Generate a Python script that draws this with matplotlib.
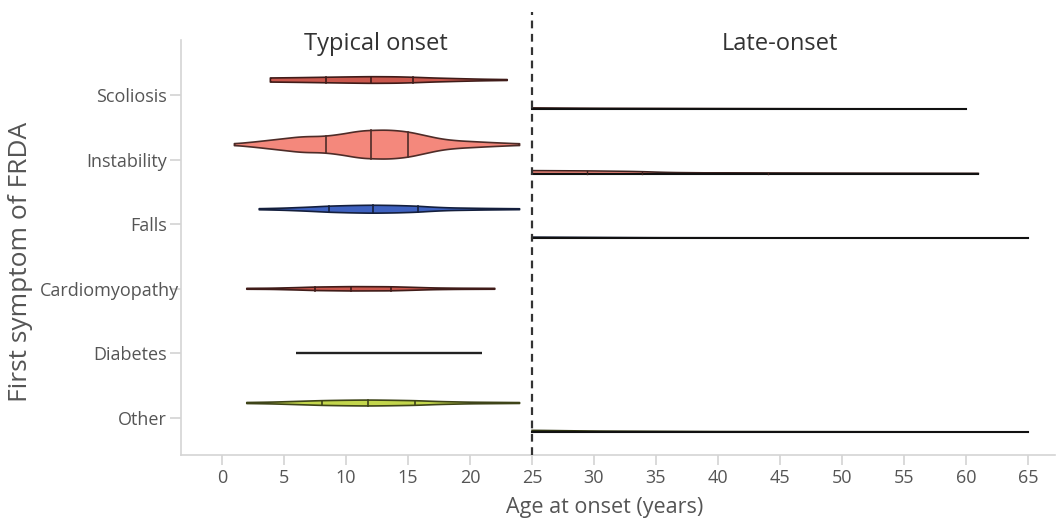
import numpy as np
import matplotlib
matplotlib.use("Agg")
import matplotlib.pyplot as plt
from matplotlib.colors import to_rgb
from matplotlib.transforms import ScaledTranslation

plt.rcParams['font.family'] = ['Open Sans', 'DejaVu Sans']

categories = ['Scoliosis', 'Instability', 'Falls', 'Cardiomyopathy', 'Diabetes', 'Other']
x_ticks = [0, 5, 10, 15, 20, 25, 30, 35, 40, 45, 50, 55, 60, 65]
cutoff_age = 25

# ---- typical onset (relative density profiles) ----
scoliosis_typ_age = [3.9, 6, 8.4, 10, 12, 14, 15.4, 17, 19.2, 21, 23]
scoliosis_typ_dens = [0.14, 0.16, 0.19, 0.21, 0.23, 0.22, 0.19, 0.14, 0.09, 0.055, 0.03]
scoliosis_typ_quart = [8.4, 12.0, 15.4]

instability_typ_age = [1, 2.5, 4.3, 6.4, 8.3, 9.7, 11, 12, 13.5, 15, 16.4, 17.7, 19, 21.7, 24]
instability_typ_dens = [0.055, 0.17, 0.34, 0.54, 0.57, 0.72, 0.92, 0.98, 1.0, 0.88, 0.62, 0.38, 0.26, 0.14, 0.055]
instability_typ_quart = [8.4, 12.0, 15.0]

falls_typ_age = [3, 4.9, 7, 8.6, 10.5, 12.2, 14, 15.7, 17, 18.4, 21, 24]
falls_typ_dens = [0.035, 0.07, 0.14, 0.21, 0.255, 0.275, 0.255, 0.21, 0.14, 0.09, 0.055, 0.03]
falls_typ_quart = [8.6, 12.2, 15.8]

cardio_typ_age = [2, 4, 6, 7.5, 10.4, 13.6, 15, 17, 19, 22]
cardio_typ_dens = [0.03, 0.04, 0.08, 0.12, 0.15, 0.14, 0.11, 0.06, 0.04, 0.03]
cardio_typ_quart = [7.5, 10.4, 13.6]

diabetes_typ_age = [6, 21]
diabetes_typ_dens = [0.0, 0.0]
diabetes_typ_quart = []

other_typ_age = [2, 4, 6, 8.1, 10, 11.8, 13.5, 15.6, 17.5, 20, 24]
other_typ_dens = [0.035, 0.06, 0.11, 0.165, 0.19, 0.205, 0.19, 0.16, 0.1, 0.055, 0.03]
other_typ_quart = [8.1, 11.8, 15.6]

# ---- late onset (one-sided) ----
scoliosis_late_age = [25, 30, 40, 50, 60]
scoliosis_late_dens = [0.08, 0.055, 0.035, 0.02, 0.015]

instability_late_age = [25, 29.4, 33.5, 36, 40, 50, 61]
instability_late_dens = [0.21, 0.19, 0.15, 0.08, 0.05, 0.03, 0.015]
instability_late_quart = [29.4, 33.9, 44.0]

falls_late_age = [25, 35, 45, 55, 65]
falls_late_dens = [0.08, 0.04, 0.03, 0.02, 0.015]

other_late_age = [25, 30, 40, 55, 65]
other_late_dens = [0.12, 0.07, 0.035, 0.02, 0.015]

colors = {
    'Scoliosis': '#c9574d',
    'Instability': '#f4887c',
    'Falls': '#3f62c0',
    'Cardiomyopathy': '#c9574d',
    'Diabetes': '#c9574d',
    'Other': '#c3d64c',
}

typical = [
    ('Scoliosis', scoliosis_typ_age, scoliosis_typ_dens, scoliosis_typ_quart),
    ('Instability', instability_typ_age, instability_typ_dens, instability_typ_quart),
    ('Falls', falls_typ_age, falls_typ_dens, falls_typ_quart),
    ('Cardiomyopathy', cardio_typ_age, cardio_typ_dens, cardio_typ_quart),
    ('Diabetes', diabetes_typ_age, diabetes_typ_dens, diabetes_typ_quart),
    ('Other', other_typ_age, other_typ_dens, other_typ_quart),
]
late = [
    ('Scoliosis', scoliosis_late_age, scoliosis_late_dens, []),
    ('Instability', instability_late_age, instability_late_dens, instability_late_quart),
    ('Falls', falls_late_age, falls_late_dens, []),
    ('Other', other_late_age, other_late_dens, []),
]
late_names = [l[0] for l in late]

# ---- figure ----
W, H = 1058, 518
fig = plt.figure(figsize=(W / 100, H / 100), dpi=100)
AX_L, AX_R, AX_T, AX_B = 181, 1055, 40, 455
ax = fig.add_axes([AX_L / W, (H - AX_B) / H, (AX_R - AX_L) / W, (AX_B - AX_T) / H])

SCALE = 0.225      # half-width (category units) for relative density 1
OFF_TYP = -0.232
OFF_LATE = 0.217


def smooth_profile(ages, dens, n=400):
    xs = np.linspace(ages[0], ages[-1], n)
    ws = np.interp(xs, ages, dens)
    k = 25
    pad = np.concatenate([np.full(k, ws[0]), ws, np.full(k, ws[-1])])
    ker = np.ones(k) / k
    sm = np.convolve(pad, ker, mode='same')[k:-k]
    return xs, sm


def edge_of(c, f=0.32):
    r, g, b = to_rgb(c)
    return (r * f, g * f, b * f)


for name, ages, dens, quart in typical:
    i = categories.index(name)
    c = i + (OFF_TYP if name in late_names else 0.0)
    xs, ws = smooth_profile(ages, dens)
    w = ws * SCALE
    fc = colors[name]
    ec = edge_of(fc)
    if max(dens) == 0:
        ax.plot([ages[0], ages[-1]], [c, c], color='#222222', lw=1.7, solid_capstyle='butt')
        continue
    px = np.concatenate([xs, xs[::-1]])
    py = np.concatenate([c - w, (c + w)[::-1]])
    ax.fill(px, py, facecolor=fc, edgecolor=ec, lw=1.2, joinstyle='round', zorder=3)
    for q in quart:
        wq = np.interp(q, xs, w)
        ax.plot([q, q], [c - wq, c + wq], color=ec, lw=1.2, zorder=4)

for name, ages, dens, quart in late:
    i = categories.index(name)
    c = i + OFF_LATE
    xs, ws = smooth_profile(ages, dens)
    w = ws * SCALE
    fc = colors[name]
    ec = edge_of(fc, 0.25)
    px = np.concatenate([xs, xs[::-1]])
    py = np.concatenate([c - w, np.full_like(xs, c)])
    ax.fill(px, py, facecolor=fc, edgecolor=ec, lw=1.1, zorder=3)
    ax.plot(xs, np.full_like(xs, c), color='#111111', lw=1.5, zorder=4)
    for q in quart:
        wq = np.interp(q, xs, w)
        ax.plot([q, q], [c - wq, c], color=ec, lw=1.0, zorder=4)

# dashed cutoff line
ax.axvline(cutoff_age, ymin=0, ymax=(AX_B - 12) / (AX_B - AX_T), color='#333333',
           lw=1.6, ls=(0, (3.5, 2.5)), clip_on=False, zorder=5)

ax.set_xlim((AX_L - 222) / 12.4, (AX_R - 222) / 12.4)
ax.set_ylim((AX_B - 95) / 64.6, (AX_T - 95) / 64.6)

ax.set_xticks(x_ticks)
ax.set_xticklabels([str(t) for t in x_ticks])
ax.set_yticks(range(len(categories)))
ax.set_yticklabels(categories)

for s in ['top', 'right']:
    ax.spines[s].set_visible(False)
for s in ['left', 'bottom']:
    ax.spines[s].set_color('#d4d4d4')
    ax.spines[s].set_linewidth(1.2)

ax.tick_params(axis='both', colors='#d0d0d0', labelcolor='#555555', labelsize=13,
               width=1.1)
ax.tick_params(axis='x', length=7, pad=3)
ax.tick_params(axis='y', length=8, pad=2)

# the long label sits closer to the axis in the reference
for lab in ax.get_yticklabels():
    if lab.get_text() == 'Cardiomyopathy':
        lab.set_transform(lab.get_transform() + ScaledTranslation(12 / 100, 0, fig.dpi_scale_trans))

ax.set_xlabel('Age at onset (years)', fontsize=15.5, color='#555555')
ax.xaxis.set_label_coords((605 - AX_L) / (AX_R - AX_L), -(507 - AX_B) / (AX_B - AX_T))
ax.xaxis.label.set_va('center')
ax.set_ylabel('First symptom of FRDA', fontsize=19, color='#555555')
ax.yaxis.set_label_coords(-(AX_L - 21) / (AX_R - AX_L), (AX_B - 262) / (AX_B - AX_T))
ax.yaxis.label.set_va('center')

ax.text(12.4, (44 - 95) / 64.6, 'Typical onset', ha='center', va='center',
        fontsize=17, color='#333333')
ax.text(45.0, (44 - 95) / 64.6, 'Late-onset', ha='center', va='center',
        fontsize=17, color='#333333')

fig.savefig('out.png', dpi=100)
